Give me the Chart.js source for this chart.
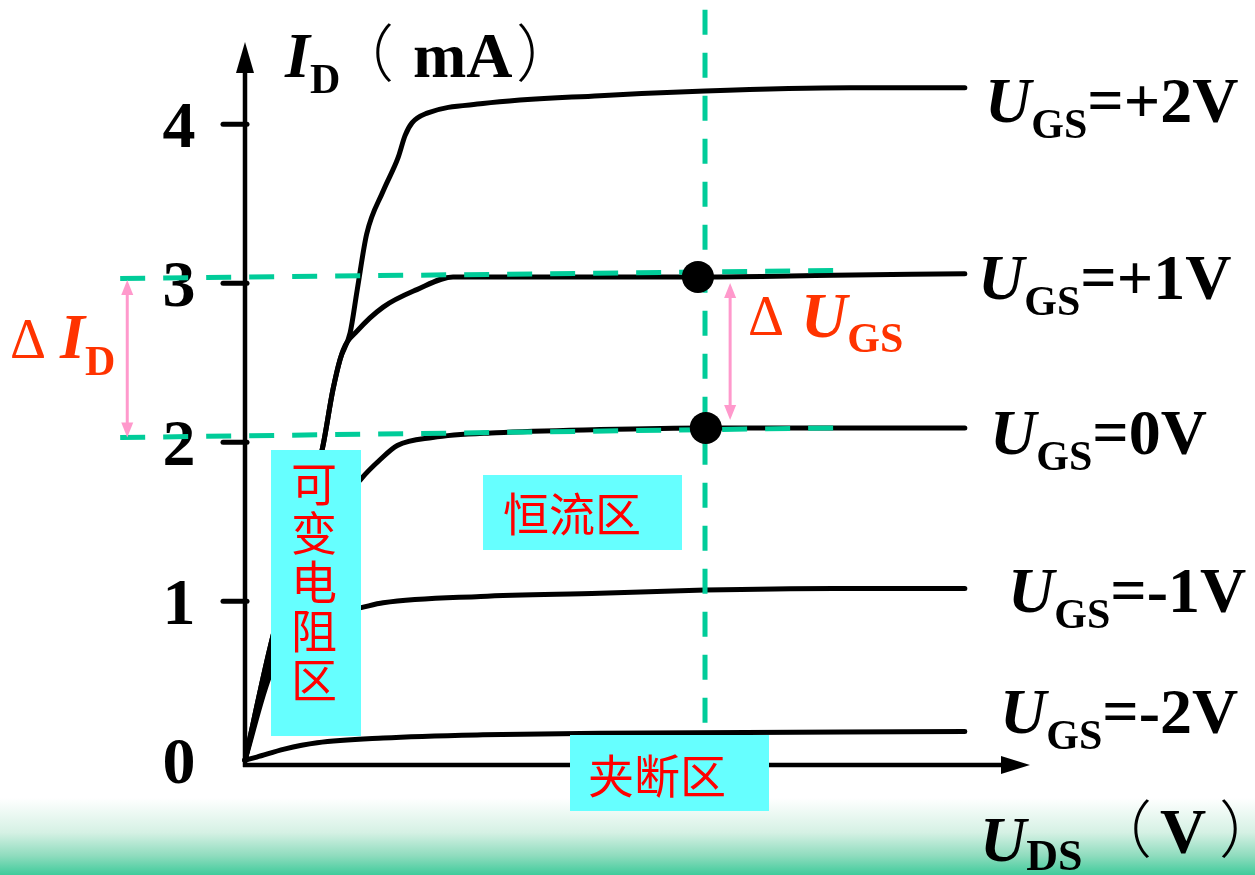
<!DOCTYPE html>
<html>
<head>
<meta charset="utf-8">
<script src="https://cdn.jsdelivr.net/npm/chart.js@4.4.1/dist/chart.umd.min.js"></script>
<style>
  html, body { margin: 0; padding: 0; background: #fff; }
  canvas { display: block; }
</style>
</head>
<body>
<canvas id="fetChart" width="1255" height="875"></canvas>
<script>
// U_DS (V) / I_D (mA) points, one pair of arrays per curve
const udsP2 = [0, 0.32, 0.65, 0.99, 1.12, 1.21, 1.34, 1.43, 1.55, 1.76, 1.95, 2.04, 2.13, 2.32, 3.03, 4.52, 5.86, 7.71, 9.17];
const idP2  = [0, 0.71, 1.32, 1.97, 2.33, 2.52, 2.69, 2.96, 3.31, 3.58, 3.79, 3.93, 4.01, 4.07, 4.13, 4.18, 4.21, 4.23, 4.23];
const udsP1 = [0, 0.32, 0.65, 0.99, 1.12, 1.25, 1.43, 1.76, 2.19, 2.65, 3.50, 4.52, 5.80, 7.50, 9.17];
const idP1  = [0, 0.71, 1.32, 1.97, 2.33, 2.58, 2.70, 2.85, 2.96, 3.04, 3.04, 3.04, 3.04, 3.05, 3.06];
const uds0  = [0, 0.33, 0.70, 1.08, 1.48, 1.72, 1.94, 2.39, 3.20, 4.52, 5.86, 7.50, 9.17];
const id0   = [0, 0.63, 1.10, 1.50, 1.77, 1.89, 1.98, 2.03, 2.06, 2.08, 2.09, 2.09, 2.09];
const udsM1 = [0, 0.33, 0.70, 1.10, 1.48, 1.76, 3.00, 4.52, 5.86, 7.50, 9.17];
const idM1  = [0, 0.55, 0.80, 0.92, 0.96, 0.99, 1.03, 1.05, 1.07, 1.08, 1.08];
const udsM2 = [0, 0.15, 0.50, 0.92, 1.76, 3.03, 4.52, 9.17];
const idM2  = [0, 0.02, 0.07, 0.11, 0.14, 0.16, 0.17, 0.18];

const curveNames = ['=+2V', '=+1V', '=0V', '=-1V', '=-2V'];

// guide lines and the two working points
const guideHiX = [-1.59, 7.52], guideHiY = [3.03, 3.08];
const guideLoX = [-1.59, 7.52], guideLoY = [2.03, 2.09];
const guideVX = [5.86, 5.86],   guideVY = [4.72, -0.35];
const pointX = [5.77, 5.87],    pointY = [3.04, 2.09];
const deltaIdX = -1.5, deltaUgsX = 6.18;
const deltaTop = 3.02, deltaBottom = 2.03, deltaUgsBottom = 2.14;

const yTickValues = [0, 1, 2, 3, 4];
const yTickLabels = ['0', '1', '2', '3', '4'];

const pts = (xs, ys) => xs.map((x, i) => ({ x, y: ys[i] }));

const GREEN = '#00cc99';
const PINK = '#ff99cc';
const SERIF = '"Liberation Serif", "Times New Roman", serif';
const CJK = '"Noto Sans CJK SC", sans-serif';

function curve(xs, ys) {
  return {
    data: pts(xs, ys), showLine: true, borderColor: '#000', borderWidth: 5,
    pointRadius: 0, cubicInterpolationMode: 'monotone', borderCapStyle: 'round',
    borderJoinStyle: 'round', clip: false, order: 2,
  };
}
function guide(xs, ys) {
  return {
    data: pts(xs, ys), showLine: true, borderColor: GREEN, borderWidth: 5,
    borderDash: [25, 18], pointRadius: 0, tension: 0, clip: false, order: 1,
  };
}

// draws a run of text pieces one after another: [text, font, dy, gap]
function run(ctx, x, y, color, parts) {
  ctx.fillStyle = color;
  ctx.textAlign = 'left';
  ctx.textBaseline = 'alphabetic';
  for (const [t, font, dy, gap] of parts) {
    ctx.font = font;
    ctx.fillText(t, x, y + (dy || 0));
    x += ctx.measureText(t).width + (gap || 0);
  }
}

function arrowHead(ctx, x, y, dir, len, half) {
  ctx.beginPath();
  ctx.moveTo(x, y);
  ctx.lineTo(x - half, y - dir * len);
  ctx.lineTo(x + half, y - dir * len);
  ctx.closePath();
  ctx.fill();
}

function pinkArrow(ctx, x, y1, y2) {
  ctx.strokeStyle = PINK; ctx.fillStyle = PINK; ctx.lineWidth = 3;
  ctx.beginPath(); ctx.moveTo(x, y1 + 10); ctx.lineTo(x, y2 - 10); ctx.stroke();
  arrowHead(ctx, x, y1, -1, 15, 6);
  arrowHead(ctx, x, y2, 1, 15, 6);
}

function box(ctx, x, y, w, h) {
  ctx.fillStyle = '#66ffff';
  ctx.fillRect(x, y, w, h);
}

const decor = {
  id: 'decor',
  beforeDraw(chart) {
    const { ctx, width, height } = chart;
    ctx.save();
    ctx.fillStyle = '#fff';
    ctx.fillRect(0, 0, width, height);
    const g = ctx.createLinearGradient(0, 798, 0, height);
    g.addColorStop(0, '#ffffff');
    g.addColorStop(0.45, '#d5f1e4');
    g.addColorStop(0.75, '#8fdcbe');
    g.addColorStop(1, '#3fcb9b');
    ctx.fillStyle = g;
    ctx.fillRect(0, 798, width, height - 798);
    ctx.restore();
  },
  beforeDatasetsDraw(chart) {
    const { ctx, chartArea, scales: { x, y } } = chart;
    const x0 = x.getPixelForValue(0), y0 = chartArea.bottom;
    ctx.save();
    ctx.strokeStyle = '#000'; ctx.fillStyle = '#000'; ctx.lineWidth = 4.5;
    // axes with arrow heads
    ctx.beginPath();
    ctx.moveTo(x0, y0 + 2); ctx.lineTo(x0, chartArea.top + 25);
    ctx.moveTo(x0 - 2, y0); ctx.lineTo(chartArea.right - 25, y0);
    ctx.stroke();
    arrowHead(ctx, x0, chartArea.top + 2, -1, 31, 9);
    ctx.beginPath();
    ctx.moveTo(chartArea.right, y0);
    ctx.lineTo(chartArea.right - 29, y0 - 9);
    ctx.lineTo(chartArea.right - 29, y0 + 9);
    ctx.closePath(); ctx.fill();
    // tick marks and labels
    ctx.lineWidth = 5; ctx.lineCap = 'round';
    ctx.font = 'bold 66px ' + SERIF;
    ctx.textAlign = 'center'; ctx.textBaseline = 'alphabetic';
    yTickValues.forEach((v, i) => {
      const py = y.getPixelForValue(v);
      if (v > 0) {
        ctx.beginPath(); ctx.moveTo(x0 - 22, py); ctx.lineTo(x0 + 2, py); ctx.stroke();
      }
      ctx.fillText(yTickLabels[i], x0 - 66, py + 23);
    });
    ctx.restore();
  },
  afterDatasetsDraw(chart) {
    const { ctx, scales: { x, y } } = chart;
    ctx.save();
    const U = 'bold italic 64px ' + SERIF, SUB = 'bold 42px ' + SERIF, B = 'bold 64px ' + SERIF;
    const PAREN = '300 62px ' + CJK;

    // region boxes
    box(ctx, 271, 450, 90, 286);
    box(ctx, 483, 475, 199, 75);
    box(ctx, 570, 735, 199, 76);
    ctx.fillStyle = '#ff0000';
    ctx.font = '46px ' + CJK;
    ctx.textAlign = 'center'; ctx.textBaseline = 'middle';
    ['可', '变', '电', '阻', '区'].forEach((c, i) => ctx.fillText(c, 314, 484 + i * 49));
    ctx.fillText('恒流区', 572, 514);
    ctx.fillText('夹断区', 657, 776);

    // delta arrows
    pinkArrow(ctx, x.getPixelForValue(deltaIdX), y.getPixelForValue(deltaTop), y.getPixelForValue(deltaBottom));
    pinkArrow(ctx, x.getPixelForValue(deltaUgsX), y.getPixelForValue(deltaTop) + 3, y.getPixelForValue(deltaUgsBottom));

    const RED = '#ff3300';
    run(ctx, 10, 358, RED, [['Δ', '56px ' + SERIF, 0, 14], ['I', U], ['D', SUB, 17]]);
    run(ctx, 748, 335, RED, [['Δ', '56px ' + SERIF, 0, 17], ['U', U, 2], ['GS', SUB, 17]]);

    // axis titles
    run(ctx, 285, 77, '#000', [['I', U], ['D', SUB, 16]]);
    run(ctx, 332, 77, '#000', [['（', PAREN]]);
    run(ctx, 413, 77, '#000', [['mA', B]]);
    run(ctx, 516, 77, '#000', [['）', PAREN]]);
    run(ctx, 980, 853, '#000', [['U', U, 8], ['DS', 'bold 44px ' + SERIF, 17]]);
    run(ctx, 1090, 853, '#000', [['（', PAREN]]);
    run(ctx, 1160, 853, '#000', [['V', B]]);
    run(ctx, 1219, 853, '#000', [['）', PAREN]]);

    // curve names
    const rows = [[985, 122], [978, 299], [990, 454], [1008, 612], [1000, 733]];
    rows.forEach(([px, py], i) => {
      run(ctx, px, py, '#000', [['U', U], ['GS', SUB, 16], [curveNames[i], B]]);
    });
    ctx.restore();
  },
};

new Chart(document.getElementById('fetChart'), {
  type: 'scatter',
  data: {
    datasets: [
      curve(udsP2, idP2), curve(udsP1, idP1), curve(uds0, id0), curve(udsM1, idM1), curve(udsM2, idM2),
      guide(guideHiX, guideHiY), guide(guideLoX, guideLoY), guide(guideVX, guideVY),
      { data: pts(pointX, pointY), pointRadius: 16, pointBackgroundColor: '#000',
        pointBorderWidth: 0, showLine: false, clip: false, order: 0 },
    ],
  },
  options: {
    responsive: false, animation: false, devicePixelRatio: 1, events: [],
    layout: { padding: { left: 245, right: 225, top: 40, bottom: 110 } },
    plugins: { legend: { display: false }, tooltip: { enabled: false } },
    scales: {
      x: { type: 'linear', min: 0, max: 10, display: false },
      y: { type: 'linear', min: -0.03, max: 4.53, display: false },
    },
  },
  plugins: [decor],
});
</script>
</body>
</html>
